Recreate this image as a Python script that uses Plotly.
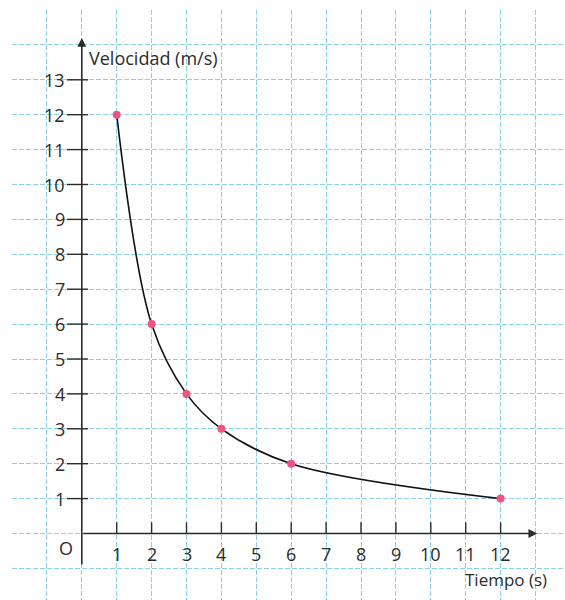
import plotly.graph_objects as go

# Time (s) and velocity (m/s) readings
tiempo = [1, 2, 3, 4, 6, 12]
velocidad = [12, 6, 4, 3, 2, 1]

x_ticks = list(range(1, 13))
y_ticks = list(range(1, 14))

INK = "#2b2b2b"
GRID = "#8ccfec"
POINT = "#ef5480"
FONT = "Open Sans"

fig = go.Figure()

# Smooth curve through the readings
fig.add_trace(go.Scatter(
    x=tiempo, y=velocidad, mode="lines",
    line=dict(color="#111111", width=1.6, shape="spline", smoothing=1.0),
    hoverinfo="skip", showlegend=False,
))
# Measured points
fig.add_trace(go.Scatter(
    x=tiempo, y=velocidad, mode="markers",
    marker=dict(color=POINT, size=8, line=dict(width=0)),
    showlegend=False,
))

shapes = []
annotations = []

# Tick marks on the axes
for t in x_ticks:
    shapes.append(dict(type="line", xref="x", yref="y", x0=t, x1=t, y0=0, y1=0.32,
                       line=dict(color=INK, width=1.4)))
for v in y_ticks:
    shapes.append(dict(type="line", xref="x", yref="y", x0=-0.43, x1=0.18, y0=v, y1=v,
                       line=dict(color=INK, width=1.4)))

# Axis arrows
annotations.append(dict(x=0, y=14.2, ax=0, ay=-0.93, xref="x", yref="y", axref="x", ayref="y",
                        text="", showarrow=True, arrowhead=2, arrowsize=1.1, arrowwidth=1.6,
                        arrowcolor=INK))
annotations.append(dict(x=13.05, y=0, ax=0, ay=0, xref="x", yref="y", axref="x", ayref="y",
                        text="", showarrow=True, arrowhead=2, arrowsize=1.1, arrowwidth=1.6,
                        arrowcolor=INK))

# Tick labels
for t in x_ticks:
    annotations.append(dict(x=t, y=-0.58, xref="x", yref="y", text=str(t), showarrow=False,
                            xanchor="center", yanchor="middle", borderpad=0,
                            font=dict(family=FONT, size=18, color=INK)))
for v in y_ticks:
    annotations.append(dict(x=-0.45, y=v, xref="x", yref="y", text=str(v), showarrow=False,
                            xanchor="right", yanchor="middle", borderpad=0,
                            font=dict(family=FONT, size=18, color=INK)))
annotations.append(dict(x=-0.45, y=-0.42, xref="x", yref="y", text="O", showarrow=False,
                        xanchor="center", yanchor="middle", borderpad=0,
                        font=dict(family=FONT, size=18, color=INK)))

# Axis titles
annotations.append(dict(x=0.18, y=13.63, xref="x", yref="y", text="Velocidad (m/s)",
                        showarrow=False, xanchor="left", yanchor="middle", borderpad=0,
                        font=dict(family=FONT, size=18, color=INK)))
annotations.append(dict(x=13.36, y=-1.31, xref="x", yref="y", text="Tiempo (s)",
                        showarrow=False, xanchor="right", yanchor="middle", borderpad=0,
                        font=dict(family=FONT, size=17, color=INK)))

px_unit = 34.9
left, top = 12, 10
W, H = 565, 600

fig.update_layout(
    width=W, height=H,
    margin=dict(l=left, r=0, t=top, b=0),
    paper_bgcolor="white", plot_bgcolor="white",
    shapes=shapes, annotations=annotations,
    xaxis=dict(range=[-2, -2 + (W - left) / px_unit], dtick=1, tick0=0,
               showgrid=True, gridcolor=GRID, gridwidth=1, griddash="5px,2px",
               zeroline=False, showticklabels=False, ticks="", showline=False, fixedrange=True),
    yaxis=dict(range=[15 - (H - top) / px_unit, 15], dtick=1, tick0=0,
               showgrid=True, gridcolor=GRID, gridwidth=1, griddash="5px,2px",
               zeroline=False, showticklabels=False, ticks="", showline=False, fixedrange=True),
)

fig.write_html("out.html")
